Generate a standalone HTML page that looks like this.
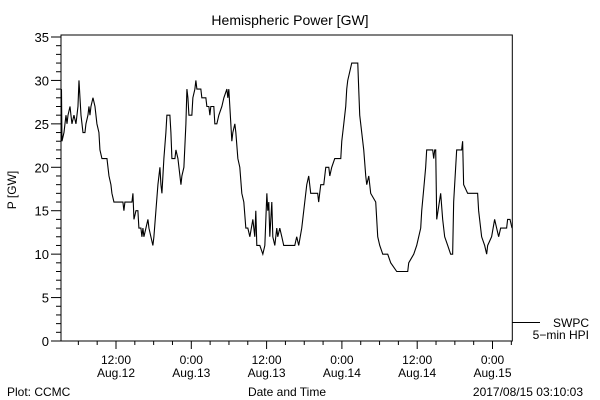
<!DOCTYPE html>
<html><head><meta charset="utf-8">
<style>
html,body{margin:0;padding:0;background:#fff;}
svg{display:block;font-family:"Liberation Sans",sans-serif;}
</style></head>
<body>
<svg id="chart" width="600" height="400" viewBox="0 0 600 400" xmlns="http://www.w3.org/2000/svg">
<rect x="0" y="0" width="600" height="400" fill="#fff"/>
<text x="290" y="25" font-size="14" text-anchor="middle">Hemispheric Power [GW]</text>
<text x="0" y="0" font-size="12" text-anchor="middle" transform="translate(16,190) rotate(-90)">P [GW]</text>
<rect x="61" y="35" width="451.3" height="306" fill="none" stroke="#000" stroke-width="1"/>
<g id="yaxis"></g>
<g id="xaxis"></g>
<g id="series"></g>
<line x1="512" y1="322.5" x2="540" y2="322.5" stroke="#000" stroke-width="1"/>
<text x="589" y="327" font-size="12" text-anchor="end">SWPC</text>
<text x="589" y="339" font-size="12" text-anchor="end">5−min HPI</text>
<text x="287" y="396" font-size="12" text-anchor="middle">Date and Time</text>
<text x="7" y="396" font-size="12">Plot: CCMC</text>
<text x="583" y="396" font-size="12" text-anchor="end">2017/08/15 03:10:03</text>
</svg>
<script>
// hours since 2017-08-12 00:00
const times = [3.23,3.31,3.39,3.71,3.87,4.03,4.19,4.35,4.67,4.82,4.98,5.30,5.62,5.94,6.10,6.26,6.42,6.58,6.74,7.05,7.21,7.53,7.69,7.85,8.01,8.33,8.65,8.96,9.28,9.44,9.76,10.56,10.88,11.19,11.35,11.67,13.10,13.26,13.42,14.54,14.70,14.86,15.18,15.49,15.65,15.97,16.13,16.29,16.45,16.77,17.09,17.25,17.56,17.88,18.04,18.36,18.68,19.00,19.16,19.32,19.63,19.95,20.11,20.59,20.75,20.91,21.39,21.55,21.87,22.19,22.35,22.50,22.82,23.14,23.30,23.46,23.62,24.09,24.25,24.57,24.73,24.89,25.52,25.68,26.32,26.48,26.80,26.96,27.11,27.59,27.75,28.07,28.39,28.87,29.19,29.67,29.82,29.98,30.14,30.46,30.62,30.94,31.10,31.42,31.73,32.05,32.37,32.69,33.01,33.33,33.81,34.12,34.28,34.44,34.92,35.40,35.72,36.04,36.19,36.35,36.51,36.83,36.99,37.31,37.62,37.78,38.10,38.42,38.73,40.49,40.80,41.12,41.60,41.76,42.08,42.40,42.71,43.03,44.14,44.30,44.46,44.63,45.11,45.43,45.91,46.07,46.38,46.86,47.82,47.98,48.30,48.61,48.77,48.93,49.25,49.57,50.53,50.68,50.84,51.16,51.48,51.80,51.96,52.28,52.59,53.39,53.71,54.03,54.51,55.30,55.78,56.74,58.49,58.65,59.45,59.92,60.24,60.56,60.72,61.04,61.35,61.51,62.47,62.63,62.79,62.95,63.11,63.74,64.06,64.38,64.86,65.33,65.65,65.81,66.29,67.08,67.24,67.40,68.04,69.63,69.79,70.27,70.75,71.07,71.23,71.86,72.34,72.66,72.98,73.30,74.25,74.41,74.79,75.11];
const power = [28,29,23,24,25,26,25,26,27,26,25,26,25,27,30,28,26,25,24,24,25,26,27,26,27,28,27,25,24,22,21,21,19,18,17,16,16,15,16,16,17,14,15,15,13,13,12,13,12,13,14,13,12,11,12,15,18,20,18,17,21,24,26,26,24,21,21,22,21,19,18,19,20,25,29,28,26,26,28,29,30,29,29,28,28,27,27,26,27,27,25,25,26,27,28,29,28,29,27,23,24,25,24,21,20,17,16,13,13,12,14,12,15,11,11,10,11,17,15,16,12,16,12,11,13,12,13,12,11,11,12,11,13,14,16,18,19,17,17,16,17,18,18,20,20,19,20,21,21,23,25,27,29,30,31,32,32,29,26,24,22,19,18,19,17,16,12,11,10,10,9,8,8,9,10,11,12,13,15,17.5,20,22,22,21,22,22,14,17,14,12,11,10,10,16,22,22,23,18,17,17,15,12,11,10,11,12,14,13,12,13,13,14,14,13];
const yTickValues = [0,5,10,15,20,25,30,35];
const xTickHours = [12,24,36,48,60,72];
const xTickTimes = ["12:00","0:00","12:00","0:00","12:00","0:00"];
const xTickDates = ["Aug.12","Aug.13","Aug.13","Aug.14","Aug.14","Aug.15"];

const NS="http://www.w3.org/2000/svg";
const PX0=40.7, PXH=75.3/12;
const Y0=341, PYV=304/35;
function xs(h){return PX0+h*PXH;}
function ys(v){return Y0-v*PYV;}
function mk(tag,attrs,parent){const e=document.createElementNS(NS,tag);for(const k in attrs)e.setAttribute(k,attrs[k]);parent.appendChild(e);return e;}

const ya=document.getElementById('yaxis');
for(let v=0;v<=35;v++){
  const major=v%5===0;
  const t=mk('line',{x1:61-(major?10:5),x2:61,y1:ys(v),y2:ys(v),stroke:'#000','stroke-width':1},ya);
  
  
}
yTickValues.forEach(v=>{
  const t=mk('text',{x:49,y:ys(v)+5,'font-size':13,'text-anchor':'end'},ya);
  t.textContent=String(v);
  
  
});
const xa=document.getElementById('xaxis');
for(let h=6;h<=75;h+=3){
  const major=h%12===0;
  const t=mk('line',{x1:xs(h),x2:xs(h),y1:341,y2:341+(major?8:4),stroke:'#000','stroke-width':1},xa);
  
  
}
xTickHours.forEach((h,i)=>{
  const a=mk('text',{x:xs(h),y:364,'font-size':12,'text-anchor':'middle'},xa);
  a.textContent=xTickTimes[i];
  
  
  const b=mk('text',{x:xs(h),y:377,'font-size':12,'text-anchor':'middle'},xa);
  b.textContent=xTickDates[i];
  
  
});
const sg=document.getElementById('series');
let d='';
times.forEach((h,i)=>{d+=(i?'L':'M')+xs(h).toFixed(2)+','+ys(power[i]).toFixed(2);});
const p=mk('path',{d:d,fill:'none',stroke:'#000','stroke-width':1.1},sg);


</script>
</body></html>
